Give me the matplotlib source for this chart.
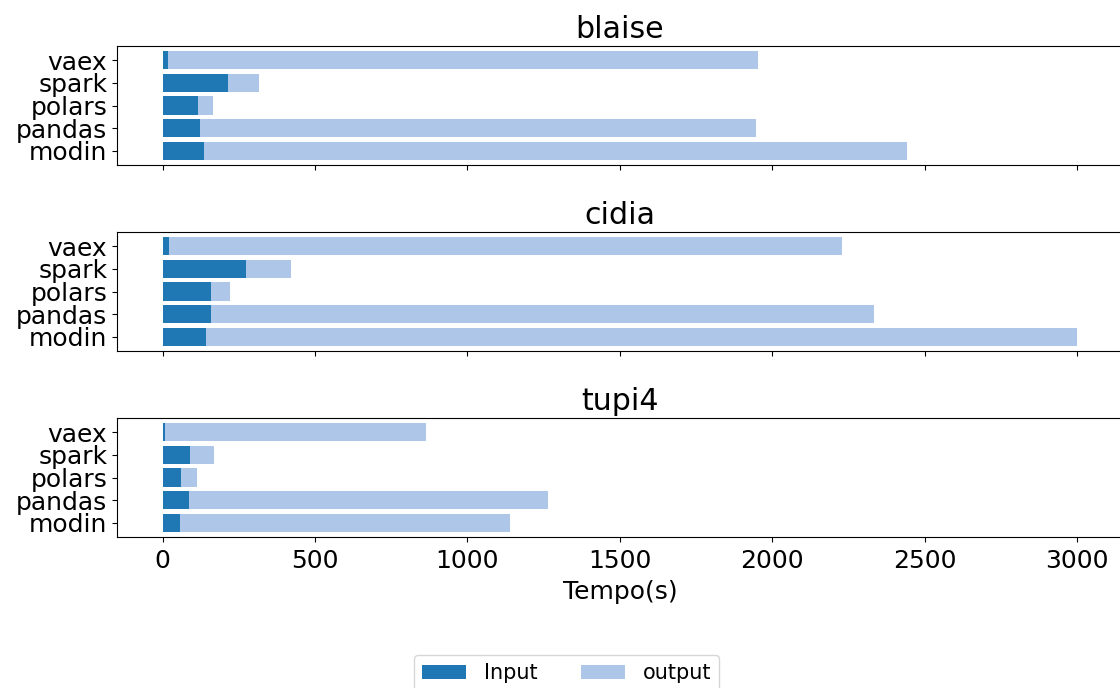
import matplotlib
matplotlib.use("Agg")
import matplotlib.pyplot as plt
import numpy as np

libs = ["modin", "pandas", "polars", "spark", "vaex"]
machines = ["blaise", "cidia", "tupi4"]

input_blaise = [134, 122, 116, 214, 16]
total_blaise = [2441, 1947, 165, 315, 1954]
input_cidia = [143, 159, 159, 272, 21]
total_cidia = [3000, 2333, 222, 421, 2228]
input_tupi4 = [56, 87, 61, 89, 8]
total_tupi4 = [1138, 1265, 113, 169, 863]

inputs = [input_blaise, input_cidia, input_tupi4]
totals = [total_blaise, total_cidia, total_tupi4]

c_in = "#1f77b4"
c_out = "#aec7e8"

plt.rcParams["font.size"] = 18

fig = plt.figure(figsize=(11.2, 6.88), dpi=100)
left = 117 / 1120
width = (1122.75 - 117) / 1120
tops = [46, 232, 418]
h_px = 119
axes = []
for i, t in enumerate(tops):
    b = 1 - (t + h_px) / 688
    ax = fig.add_axes([left, b, width, h_px / 688],
                      sharex=axes[0] if axes else None)
    axes.append(ax)

pos = np.arange(len(libs))
for ax, name, inp, tot in zip(axes, machines, inputs, totals):
    inp = np.array(inp, dtype=float)
    out = np.array(tot, dtype=float) - inp
    ax.barh(pos, inp, color=c_in, label="Input")
    ax.barh(pos, out, left=inp, color=c_out, label="output")
    ax.set_yticks(pos)
    ax.set_yticklabels(libs)
    ax.set_title(name, fontsize=21.6)

for ax in axes[:-1]:
    ax.tick_params(labelbottom=False)
axes[-1].set_xticks([0, 500, 1000, 1500, 2000, 2500, 3000])
axes[-1].set_xlim(-150, 3150)
axes[-1].tick_params(axis="x", pad=5.5)
axes[-1].set_xlabel("Tempo(s)", labelpad=5)

handles, labels = axes[0].get_legend_handles_labels()
fig.legend(handles, labels, loc="upper center", ncol=2, fontsize=15,
           bbox_to_anchor=(566.5 / 1120, 1 - 655 / 688), borderaxespad=0,
           columnspacing=2.1, handlelength=2.1, handletextpad=0.85)

fig.savefig("out.png", dpi=100)
